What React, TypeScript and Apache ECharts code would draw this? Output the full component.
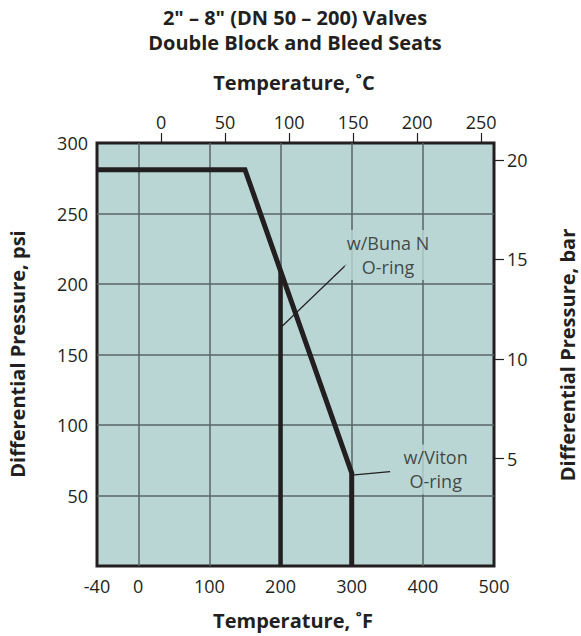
import React, { useEffect, useRef } from "react";
import * as echarts from "echarts";

// ---- data ----
const F_MIN = -58; // left edge of the °F scale (labelled "-40" in the source)
const F_MAX = 500;
const C_MIN = -50;
const C_MAX = 260;
const PSI_MIN = 0;
const PSI_MAX = 300;
const BAR_MIN = -0.4;
const BAR_MAX = 20.85;

const fLabelValues = [F_MIN, 0, 100, 200, 300, 400, 500];
const fLeftLabel = "-40";
const cTicks = [0, 50, 100, 150, 200, 250];
const barTicks = [5, 10, 15, 20];

// Viton O-ring envelope (°F, psi)
const vitonF = [F_MIN, 150, 300, 300];
const vitonPsi = [281, 281, 66, 0];
// Buna N O-ring cut-off (°F, psi)
const bunaF = [200, 200];
const bunaPsi = [209, 0];
// leader lines
const bunaLeaderF = [200, 293];
const bunaLeaderPsi = [169, 214];
const vitonLeaderF = [300, 354];
const vitonLeaderPsi = [64.5, 67];
// annotation labels
const noteLabels = ["w/Buna N\nO-ring", "w/Viton\nO-ring"];
const noteF = [351, 418];
const notePsi = [220.5, 68.5];

const zip = (a: number[], b: number[]) => a.map((v, i) => [v, b[i]]);

const INK = "#231f20";
const BG = "#b9d6d5";
const GRIDC = "#5a6464";
const FONT = "'Open Sans', 'Noto Sans', sans-serif";

export default function App() {
  const ref = useRef<HTMLDivElement>(null);
  useEffect(() => {
    document.body.style.margin = "0";
    const chart = echarts.init(ref.current!, null, { renderer: "svg" });
    const tickLabel = { fontSize: 18, color: INK, fontFamily: FONT };
    const titleStyle = (text: string) => ({
      text,
      font: `bold 20px ${FONT}`,
      fill: INK,
      textAlign: "center",
      textVerticalAlign: "middle",
    });
    chart.setOption({
      animation: false,
      grid: {
        left: 97,
        right: 87,
        top: 143,
        bottom: 70,
        show: true,
        backgroundColor: BG,
        borderColor: INK,
        borderWidth: 3,
      },
      xAxis: [
        {
          type: "value",
          position: "bottom",
          min: F_MIN,
          max: F_MAX,
          axisLine: { show: false, onZero: false },
          axisTick: { show: false },
          axisLabel: {
            ...tickLabel,
            margin: 11,
            customValues: fLabelValues,
            formatter: (v: number) => (v === F_MIN ? fLeftLabel : String(v)),
          },
          splitLine: {
            show: true,
            showMinLine: false,
            showMaxLine: false,
            lineStyle: { color: GRIDC, width: 1.5 },
          },
        },
        {
          type: "value",
          position: "top",
          min: C_MIN,
          max: C_MAX,
          axisLine: { show: false, onZero: false },
          axisTick: {
            show: true,
            customValues: cTicks,
            length: 10,
            lineStyle: { color: INK, width: 1.2 },
          },
          axisLabel: { ...tickLabel, margin: 12, customValues: cTicks },
          splitLine: { show: false },
        },
      ],
      yAxis: [
        {
          type: "value",
          position: "left",
          min: PSI_MIN,
          max: PSI_MAX,
          interval: 50,
          axisLine: { show: false, onZero: false },
          axisTick: { show: false },
          axisLabel: {
            ...tickLabel,
            margin: 9,
            formatter: (v: number) => (v === 0 ? "" : String(v)),
          },
          splitLine: {
            show: true,
            showMinLine: false,
            showMaxLine: false,
            lineStyle: { color: GRIDC, width: 1.5 },
          },
        },
        {
          type: "value",
          position: "right",
          min: BAR_MIN,
          max: BAR_MAX,
          axisLine: { show: false, onZero: false },
          axisTick: {
            show: true,
            customValues: barTicks,
            length: 10,
            lineStyle: { color: INK, width: 1.2 },
          },
          axisLabel: { ...tickLabel, margin: 13, customValues: barTicks },
          splitLine: { show: false },
        },
      ],
      series: [
        {
          type: "line",
          data: zip(vitonF, vitonPsi),
          showSymbol: false,
          symbol: "none",
          lineStyle: { color: INK, width: 5, join: "miter", cap: "butt" },
          z: 5,
        },
        {
          type: "line",
          data: zip(bunaF, bunaPsi),
          showSymbol: false,
          symbol: "none",
          lineStyle: { color: INK, width: 4.5, cap: "butt" },
          z: 5,
        },
        {
          type: "line",
          data: zip(bunaLeaderF, bunaLeaderPsi),
          symbol: "none",
          lineStyle: { color: INK, width: 1.2 },
          z: 4,
        },
        {
          type: "line",
          data: zip(vitonLeaderF, vitonLeaderPsi),
          symbol: "none",
          lineStyle: { color: INK, width: 1.2 },
          z: 4,
        },
        {
          type: "scatter",
          symbolSize: 0,
          data: noteLabels.map((t, i) => [noteF[i], notePsi[i], t]),
          label: {
            show: true,
            position: "inside",
            formatter: (p: any) => p.data[2],
            fontSize: 18,
            lineHeight: 24,
            color: INK,
            fontFamily: FONT,
            align: "center",
            verticalAlign: "middle",
            backgroundColor: BG,
            padding: [1, 2],
          },
          z: 6,
        },
      ],
      graphic: [
        { type: "text", x: 295, y: 17, style: titleStyle('2" – 8" (DN 50 – 200) Valves') },
        { type: "text", x: 295, y: 42, style: titleStyle("Double Block and Bleed Seats") },
        { type: "text", x: 294, y: 82, style: titleStyle("Temperature, ˚C") },
        { type: "text", x: 293, y: 620, style: titleStyle("Temperature, ˚F") },
        {
          type: "text",
          x: 17,
          y: 354,
          rotation: Math.PI / 2,
          style: titleStyle("Differential Pressure, psi"),
        },
        {
          type: "text",
          x: 567,
          y: 355,
          rotation: Math.PI / 2,
          style: titleStyle("Differential Pressure, bar"),
        },
      ],
    });
    return () => chart.dispose();
  }, []);
  return <div ref={ref} style={{ width: 581, height: 636 }} />;
}
